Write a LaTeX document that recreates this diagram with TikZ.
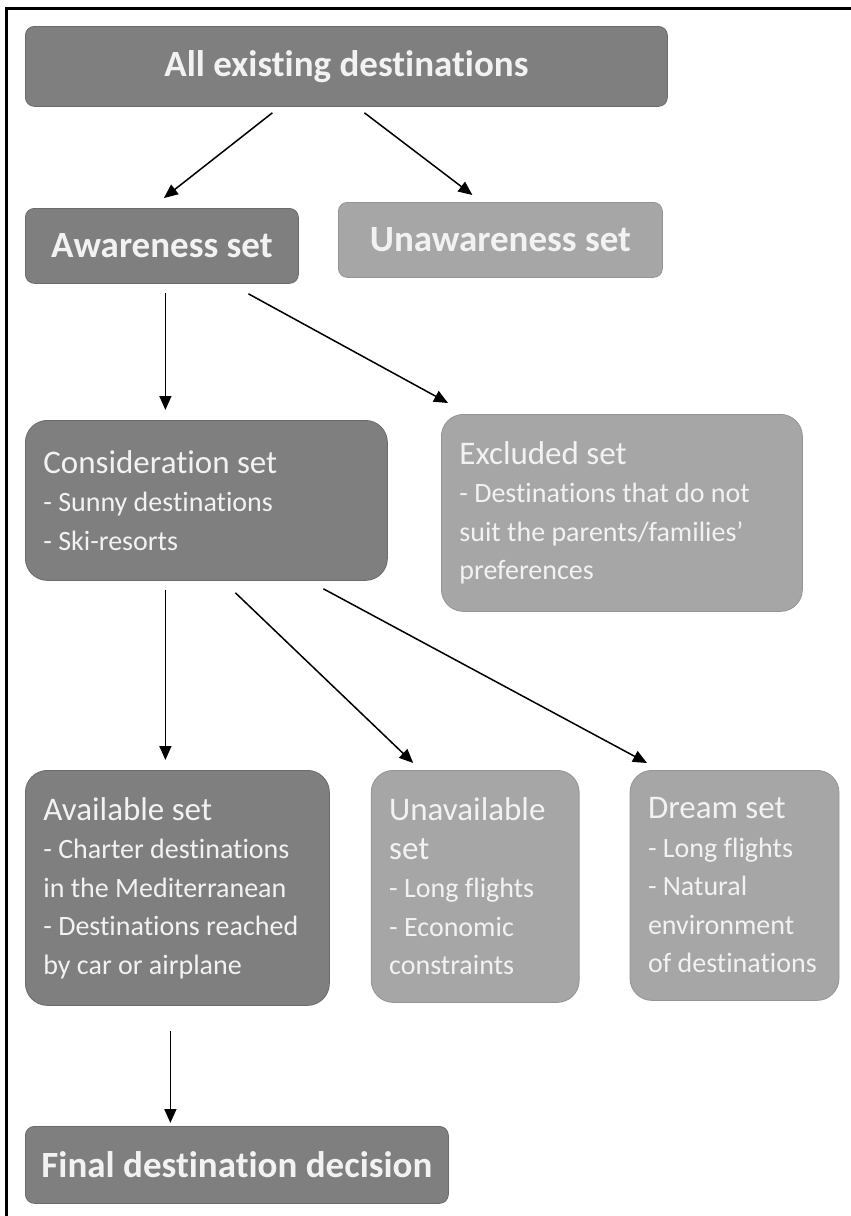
\documentclass[tikz,border=0pt]{standalone}
\usepackage{fontspec}
\setmainfont{Carlito}[Ligatures={TeX,NoCommon}]
\usepackage{tikz}
\usetikzlibrary{positioning,arrows.meta}
\definecolor{setdark}{RGB}{127,127,127}
\definecolor{setlight}{RGB}{166,166,166}
\definecolor{settext}{RGB}{242,242,242}
\def\hd#1{{\fontsize{33}{40}\selectfont #1}}
\tikzset{titlebox/.style={rectangle, rounded corners=9pt, draw=black!58,
  fill=setdark, line width=0.8pt, text=settext, align=center,
  font=\fontsize{37}{44}\selectfont\bfseries, anchor=north west}}
\tikzset{darkbox/.style={rectangle, rounded corners=22pt, draw=black!58,
  fill=setdark, line width=0.8pt, text=settext, align=flush left, inner xsep=18pt,
  font=\fontsize{28}{38.5}\selectfont, anchor=north west}}
\tikzset{lightbox/.style={darkbox, draw=black!42, fill=setlight}}
\tikzset{flow/.style={-{Triangle[length=14pt,width=12pt]}, line width=1.5pt}}

\begin{document}
\begin{tikzpicture}[x=1pt,y=-1pt]
  \useasboundingbox (0,0) rectangle (851,1216);
  % frame
  \draw[line width=3pt] (851,8) -- (6,8) -- (6,1216);
  % top
  \node[titlebox, minimum width=642pt, minimum height=80pt] (all) at (25,26) {All existing destinations};
  \node[titlebox, minimum width=273pt, minimum height=75pt] (aware) at (25,208) {Awareness set};
  \node[titlebox, fill=setlight, draw=black!42, minimum width=324pt, minimum height=75pt] (unaware) at (338,202) {Unawareness set};
  % middle
  \node[darkbox, text width=326pt, minimum height=160pt] (consid) at (25,420)
    {\hd{Consideration set}\\- Sunny destinations\\- Ski-resorts};
  \node[lightbox, text width=325pt, minimum height=197pt] (excl) at (441,414)
    {\hd{Excluded set}\\- Destinations that do not\\suit the parents/families'\\preferences};
  % lower
  \node[darkbox, text width=268pt, minimum height=235pt] (avail) at (25,770)
    {\hd{Available set}\\- Charter destinations\\in the Mediterranean\\- Destinations reached\\by car or airplane};
  \node[lightbox, text width=172pt, minimum height=232pt, right=41pt of avail.north east, anchor=north west] (unavail)
    {\hd{Unavailable}\\\hd{set}\\- Long flights\\- Economic\\constraints};
  \node[lightbox, text width=173pt, minimum height=230pt, right=50pt of unavail.north east, anchor=north west] (dream)
    {\hd{Dream set}\\- Long flights\\- Natural\\environment\\of destinations};
  \node[titlebox, minimum width=423pt, minimum height=77pt] (final) at (25,1126) {Final destination decision};
  % arrows
  \draw[flow] ([xshift=-74pt,yshift=-6pt]all.south) -- ([xshift=2pt,yshift=10pt]aware.north);
  \draw[flow] ([xshift=18pt,yshift=-6pt]all.south) -- ([xshift=-28pt,yshift=7pt]unaware.north);
  \draw[flow] ([xshift=3.5pt,yshift=-9pt]aware.south) -- ([xshift=-41pt,yshift=10pt]consid.north);
  \draw[flow] ([xshift=86.5pt,yshift=-10pt]aware.south) -- ([xshift=7pt,yshift=11pt]excl.north west);
  \draw[flow] ([xshift=-41pt,yshift=-9pt]consid.south) -- ([xshift=-12pt,yshift=10pt]avail.north);
  \draw[flow] ([xshift=29pt,yshift=-12pt]consid.south) -- ([xshift=-62pt,yshift=7pt]unavail.north);
  \draw[flow] ([xshift=117pt,yshift=-8pt]consid.south) -- ([xshift=-87.5pt,yshift=7pt]dream.north);
  \draw[flow] ([xshift=-7pt,yshift=-25pt]avail.south) -- ([xshift=-66.5pt,yshift=3pt]final.north);
\end{tikzpicture}
\end{document}
